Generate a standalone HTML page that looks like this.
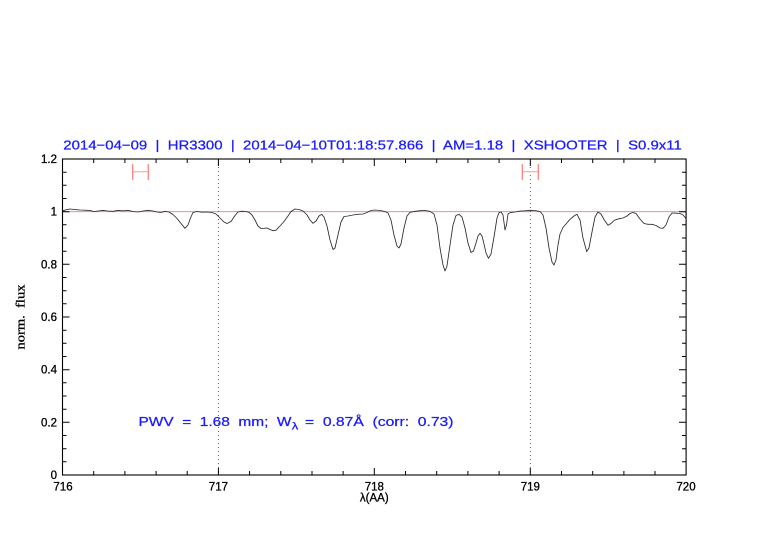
<!DOCTYPE html>
<html>
<head>
<meta charset="utf-8">
<style>
html,body{margin:0;padding:0;background:#fff;}
svg{display:block;}
text{font-family:"Liberation Sans",sans-serif;white-space:pre;}
</style>
</head>
<body>
<svg width="782" height="542" viewBox="0 0 782 542" xmlns="http://www.w3.org/2000/svg" xml:space="preserve">
<rect width="782" height="542" fill="#fff"/>

<!-- title -->
<text x="63.3" y="149.6" font-size="12.8" fill="#1a1aff" stroke="#1a1aff" stroke-width="0.25" textLength="618.5" lengthAdjust="spacingAndGlyphs">2014−04−09  |  HR3300  |  2014−04−10T01:18:57.866  |  AM=1.18  |  XSHOOTER  |  S0.9x11</text>

<!-- reference line at 1 -->
<line x1="62.5" y1="211.7" x2="686" y2="211.7" stroke="#e88080" stroke-width="0.8"/>

<!-- dotted verticals -->
<line x1="218.4" y1="159" x2="218.4" y2="475" stroke="#444" stroke-width="0.8" stroke-dasharray="1 3"/>
<line x1="530.3" y1="159" x2="530.3" y2="475" stroke="#444" stroke-width="0.8" stroke-dasharray="1 3"/>

<!-- error bars -->
<g stroke-width="1.3">
<line x1="132.7" y1="171.7" x2="148.3" y2="171.7" stroke="#ffb0b0"/>
<line x1="132.7" y1="164" x2="132.7" y2="180" stroke="#ff8080"/>
<line x1="148.3" y1="164" x2="148.3" y2="180" stroke="#ff8080"/>
<line x1="522.3" y1="171.7" x2="538.3" y2="171.7" stroke="#ffb0b0"/>
<line x1="522.3" y1="164" x2="522.3" y2="180" stroke="#ff8080"/>
<line x1="538.3" y1="164" x2="538.3" y2="180" stroke="#ff8080"/>
</g>

<!-- spectrum -->
<polyline fill="none" stroke="#2a2a2a" stroke-width="0.85" stroke-linejoin="round" points="
62.5,211 66,209.8 70,209 75,209.6 80,210 85,210.2 90,210.6 94,211.5 98,211 103,210.4 108,211 113,211.3 118,210.4 123,210.8 128,210.4 133,211.5 138,212 143,211 148,210.3 153,211 157,212 161,212.5 165,211.3 169,212 173,214.5 177,218.5 181,223.5 185,228.3 188,225 190.5,218 193,212.5 197,211.5 202,212.2 207,212 212,212.5 216,214 220,218 224,222 227,223.5 231,221.5 235,215.5 238,212 242,211.2 246,211.5 249,212.3 252,215 255,220 258,226 261,228.5 264,228.3 267,228 270,229.5 273,230.7 276,230.2 280,226 284,221.5 288,216 291,211.5 295,209 299,209.5 303,211 307,215 310,220 313,223.3 316,221 319,216 321.7,214.3 324,217 327,226 330,240 333,249.5 335,248 338,235 341,222 344,216.5 348,216 353,215 358,214.3 363,214 367,212.5 371,210.5 375,210 380,210.5 385,211.5 388,213 391,220 394,235 397,246 399,248 401,244 404,228 407,216 410,212.3 415,211.3 420,210.7 425,210.5 430,211.3 434,214 437,225 440,248 443,265 445,271 447,266 450,245 453,225 456,215.5 459,214.3 462,217 465,228 468,243 471,252.5 473.5,251 476,243 478,236 480,233.3 482,236 484,244 486,253 488.5,258.3 491,254 494,237 497,218 499,212.7 501,212 503,215 505,230 506.5,225 508,214 510,212.7 515,212 520,211 525,210.8 530,210.3 535,210.5 540,211.5 543,215 546,228 549,248 552,262 554,265 556,260 558,245 560,234 563,227.5 566,224 570,219.3 574,216 577,214.3 580,220 583,238 586.7,251.7 589,248 592,232 595,217 598,212 601,214 604,219.5 608,225.3 611,223.5 614,220.5 617,219.3 620,218.6 623,218 627,216 630,213.5 633,212.5 636,213.5 640,219 644,223.5 648,224.3 652,224.3 656,225.5 660,228 663,228.3 666,225 669,217 672,213 676,213.2 680,213.5 683,215 686,218.5"/>

<!-- frame -->
<rect x="62.5" y="159" width="623.6" height="316" fill="none" stroke="#000" stroke-width="1.1"/>

<!-- ticks -->
<g stroke="#000" stroke-width="1">
<path d="M218.4,475v-7M374.3,475v-7M530.3,475v-7M218.4,159v7M374.3,159v7M530.3,159v7"/>
<path d="M93.7,475v-4M124.9,475v-4M156.1,475v-4M187.2,475v-4M249.6,475v-4M280.8,475v-4M312,475v-4M343.1,475v-4M405.5,475v-4M436.7,475v-4M467.9,475v-4M499.1,475v-4M561.5,475v-4M592.7,475v-4M623.9,475v-4M655,475v-4
M93.7,159v4M124.9,159v4M156.1,159v4M187.2,159v4M249.6,159v4M280.8,159v4M312,159v4M343.1,159v4M405.5,159v4M436.7,159v4M467.9,159v4M499.1,159v4M561.5,159v4M592.7,159v4M623.9,159v4M655,159v4"/>
<path d="M62.5,211.7h7M62.5,264.3h7M62.5,317h7M62.5,369.7h7M62.5,422.3h7M686,211.7h-7M686,264.3h-7M686,317h-7M686,369.7h-7M686,422.3h-7"/>
<path d="M62.5,172.2h4M62.5,185.3h4M62.5,198.5h4M62.5,224.8h4M62.5,238h4M62.5,251.2h4M62.5,277.5h4M62.5,290.7h4M62.5,303.8h4M62.5,330.2h4M62.5,343.3h4M62.5,356.5h4M62.5,382.8h4M62.5,396h4M62.5,409.2h4M62.5,435.5h4M62.5,448.7h4M62.5,461.8h4
M686,172.2h-4M686,185.3h-4M686,198.5h-4M686,224.8h-4M686,238h-4M686,251.2h-4M686,277.5h-4M686,290.7h-4M686,303.8h-4M686,330.2h-4M686,343.3h-4M686,356.5h-4M686,382.8h-4M686,396h-4M686,409.2h-4M686,435.5h-4M686,448.7h-4M686,461.8h-4"/>
</g>

<!-- y tick labels -->
<g font-size="11.5" fill="#000" stroke="#000" stroke-width="0.3" text-anchor="end">
<text x="57" y="163">1.2</text>
<text x="57" y="215.7">1</text>
<text x="57" y="268.3">0.8</text>
<text x="57" y="321">0.6</text>
<text x="57" y="373.7">0.4</text>
<text x="57" y="426.3">0.2</text>
<text x="57" y="479">0</text>
</g>

<!-- x tick labels -->
<g font-size="11.5" fill="#000" stroke="#000" stroke-width="0.3" text-anchor="middle">
<text x="63" y="490.5">716</text>
<text x="218.4" y="490.5">717</text>
<text x="374.3" y="490.5">718</text>
<text x="530.3" y="490.5">719</text>
<text x="686" y="490.5">720</text>
</g>

<!-- axis labels -->
<text x="374.3" y="501.5" font-size="11.5" text-anchor="middle" fill="#000" stroke="#000" stroke-width="0.3">λ(AA)</text>
<text transform="translate(24.5,317) rotate(-90)" font-size="12.5" text-anchor="middle" fill="#000" stroke="#000" stroke-width="0.3" textLength="65" lengthAdjust="spacingAndGlyphs" style="font-family:'Liberation Serif',serif">norm.  flux</text>

<!-- PWV annotation -->
<g fill="#1a1aff" stroke="#1a1aff" stroke-width="0.25" font-size="12.8">
<text x="138.5" y="426" textLength="153" lengthAdjust="spacingAndGlyphs">PWV  =  1.68  mm;  W</text>
<text x="291.8" y="429.5" font-size="10" textLength="6.5" lengthAdjust="spacingAndGlyphs">λ</text>
<text x="305" y="426" textLength="148.5" lengthAdjust="spacingAndGlyphs">=  0.87Å  (corr:  0.73)</text>
</g>
</svg>
</body>
</html>
